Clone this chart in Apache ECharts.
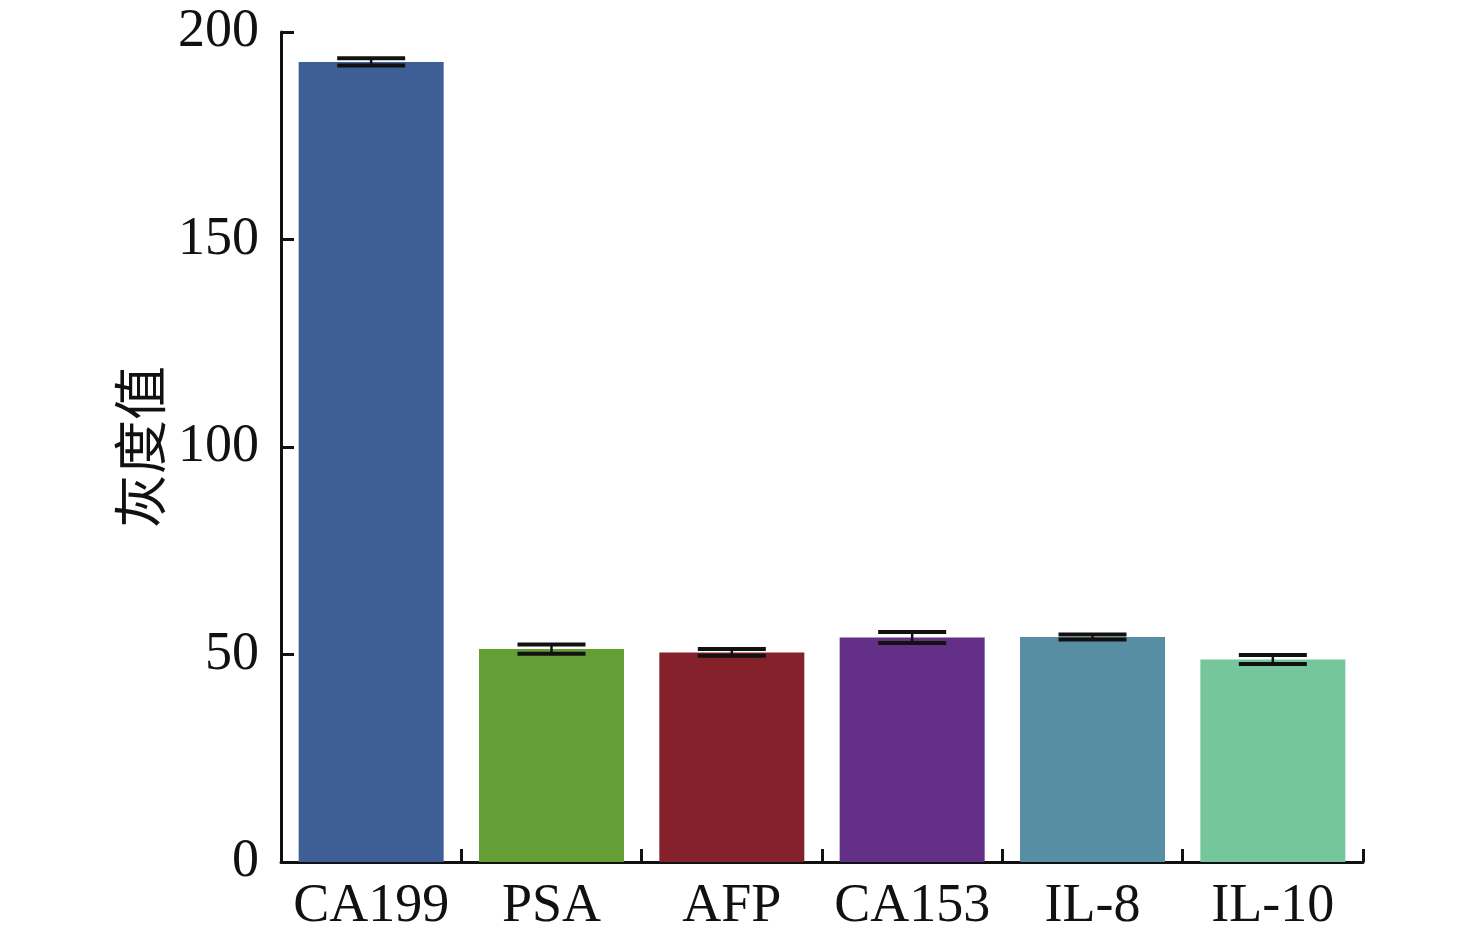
<!DOCTYPE html>
<html>
<head>
<meta charset="utf-8">
<script src="https://cdn.jsdelivr.net/npm/echarts@6/dist/echarts.min.js"></script>
<style>
  html, body { margin: 0; padding: 0; background: #fff; }
  #main { width: 1476px; height: 940px; }
</style>
</head>
<body>
<div id="main"></div>
<script>
    // data
    var categories = ['CA199', 'PSA', 'AFP', 'CA153', 'IL-8', 'IL-10'];
    var means = [192.8, 51.3, 50.5, 54.1, 54.2, 48.8];
    var errors = [0.9, 1.1, 0.8, 1.3, 0.6, 1.1];
    var barColors = ['#3e5f96', '#639f34', '#84212b', '#642f87', '#588ea3', '#75c79b'];
    var yTicks = [0, 50, 100, 150, 200];

    var serif = '"Liberation Serif", "Times New Roman", serif';

    function init() {
        var myChart = echarts.init(document.getElementById('main'));

        var errData = means.map(function (m, i) {
            return [i, m - errors[i], m + errors[i]];
        });

        var option = {
            backgroundColor: '#fff',
            animation: false,
            grid: {
                left: 281,
                right: 113,
                top: 32,
                bottom: 78
            },
            xAxis: {
                type: 'category',
                data: categories,
                boundaryGap: true,
                axisLine: { show: true, lineStyle: { color: '#111', width: 3 } },
                axisTick: { show: true, inside: true, interval: 0, length: 13, lineStyle: { color: '#111', width: 3 } },
                axisLabel: {
                    interval: 0,
                    color: '#111',
                    fontFamily: serif,
                    fontSize: 54,
                    margin: 18
                }
            },
            yAxis: {
                type: 'value',
                min: yTicks[0],
                max: yTicks[yTicks.length - 1],
                interval: 50,
                name: '灰度值',
                nameLocation: 'middle',
                nameRotate: 90,
                nameGap: 112,
                nameTextStyle: {
                    color: '#111',
                    fontFamily: '"Noto Sans CJK SC", sans-serif',
                    fontSize: 54
                },
                splitLine: { show: false },
                axisLine: { show: true, lineStyle: { color: '#111', width: 3 } },
                axisTick: { show: true, inside: true, length: 13, lineStyle: { color: '#111', width: 3 } },
                axisLabel: {
                    color: '#111',
                    fontFamily: serif,
                    fontSize: 54,
                    margin: 22
                }
            },
            series: [
                {
                    name: '灰度值',
                    type: 'bar',
                    barWidth: 145,
                    data: means.map(function (v, i) {
                        return { value: v, itemStyle: { color: barColors[i] } };
                    })
                },
                {
                    name: 'error',
                    type: 'custom',
                    z: 10,
                    encode: { x: 0, y: [1, 2] },
                    data: errData,
                    renderItem: function (params, api) {
                        var idx = api.value(0);
                        var lo = api.coord([idx, api.value(1)]);
                        var hi = api.coord([idx, api.value(2)]);
                        var half = 34;
                        var style = { stroke: '#111', lineWidth: 4 };
                        return {
                            type: 'group',
                            children: [
                                { type: 'line', shape: { x1: lo[0], y1: lo[1], x2: hi[0], y2: hi[1] }, style: { stroke: '#111', lineWidth: 2.5 } },
                                { type: 'line', shape: { x1: hi[0] - half, y1: hi[1], x2: hi[0] + half, y2: hi[1] }, style: style },
                                { type: 'line', shape: { x1: lo[0] - half, y1: lo[1], x2: lo[0] + half, y2: lo[1] }, style: style }
                            ]
                        };
                    }
                }
            ]
        };
        myChart.setOption(option);
    }

    init();
</script>
</body>
</html>
